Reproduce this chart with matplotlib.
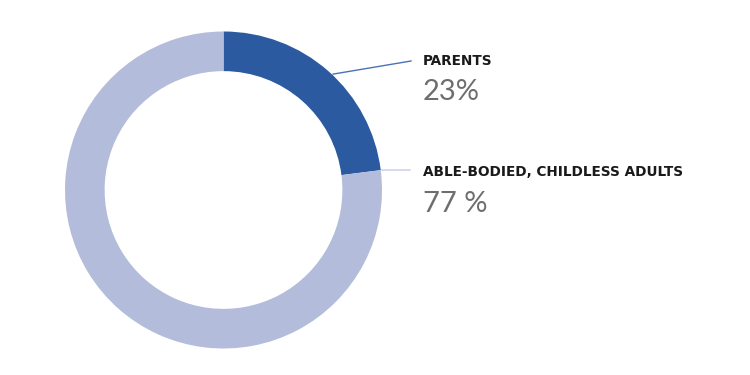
import matplotlib.pyplot as plt
import numpy as np

# Data
labels = ['PARENTS', 'ABLE-BODIED, CHILDLESS ADULTS']
values = [23, 77]
value_text = ['23%', '77 %']
colors = ['#2b5aa1', '#b4bcdb']
line_colors = ['#4a72b8', '#c6cbe6']

W, H = 750, 375
fig = plt.figure(figsize=(7.5, 3.75), dpi=100)
ax = fig.add_axes([0, 0, 1, 1])

cx, cy, r = 223.5, 185, 158.5
wedges, _ = ax.pie(values, colors=colors, startangle=90, counterclock=False,
                   center=(cx, cy), radius=r, frame=True,
                   wedgeprops=dict(width=r * 0.25, linewidth=0))
ax.set_xlim(0, W)
ax.set_ylim(0, H)
ax.set_aspect('equal')
ax.axis('off')

# leader lines: parents from middle of its wedge, adults from the split
angles = [(wedges[0].theta1 + wedges[0].theta2) / 2 - 2, wedges[1].theta2]
line_end = [(411, 314), (410, 205)]
for ang, end, c in zip(angles, line_end, line_colors):
    a = np.deg2rad(ang)
    x0, y0 = cx + (r + 1) * np.cos(a), cy + (r + 1) * np.sin(a)
    ax.plot([x0, end[0]], [y0, end[1]], color=c, lw=1)

# labels
tx = 423
label_y = [310, 199]
value_y = [275, 163]
for lab, val, ly, vy in zip(labels, value_text, label_y, value_y):
    ax.text(tx, ly, lab, fontsize=9.8, fontweight='bold', color='#1a1a1a',
            family='DejaVu Sans', va='baseline', ha='left')
    ax.text(tx, vy, val, fontsize=21, fontweight='normal', color='#6e6e6e',
            family='Lato', va='baseline', ha='left')

fig.savefig('out.png', dpi=100, facecolor='white')
